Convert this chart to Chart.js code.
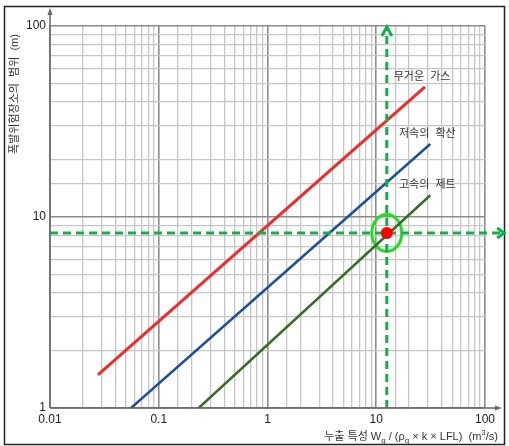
<!DOCTYPE html>
<html>
<head>
<meta charset="utf-8">
<script src="https://cdn.jsdelivr.net/npm/chart.js"></script>
<style>
  html, body { margin: 0; padding: 0; background: #fff; }
  #wrap { width: 509px; height: 446px; }
</style>
</head>
<body>
<div id="wrap"><canvas id="chart" width="509" height="446"></canvas></div>
<script>
// axis ranges / tick labels
const xTickLabels = [0.01, 0.1, 1, 10, 100];
const yTickLabels = [1, 10, 100];

// line series, end points (log-log straight lines)
const heavyGasX = [0.0276, 28.1];
const heavyGasY = [1.49, 48];
const slowDiffX = [0.0556, 31.4];
const slowDiffY = [1, 24.1];
const fastJetX = [0.233, 31.4];
const fastJetY = [1, 13.0];

const seriesNames = ["무거운 가스", "저속의 확산", "고속의 제트"];

// reading point and guides
const markX = 12.5;
const markY = 8.25;
const guideTopY = 100;
const guideRightX = 150;

const FONT = "'Liberation Sans', 'Noto Sans CJK KR', sans-serif";

const pts = (xs, ys) => xs.map((v, i) => ({ x: v, y: ys[i] }));
const isDecade = v => Math.abs(Math.log10(v) - Math.round(Math.log10(v))) < 1e-6;

const decor = {
    id: "decor",
    beforeDatasetsDraw(chart) {
        const { ctx, scales: { x, y } } = chart;
        // green ring round the reading point
        ctx.save();
        ctx.strokeStyle = "#1ee01e";
        ctx.lineWidth = 3;
        ctx.beginPath();
        ctx.ellipse(x.getPixelForValue(markX), y.getPixelForValue(markY), 15, 18.5, 0, 0, Math.PI * 2);
        ctx.stroke();
        ctx.restore();
    },
    afterDraw(chart) {
        const { ctx, scales: { x, y }, chartArea: a } = chart;
        ctx.save();

        // outer frame
        ctx.strokeStyle = "#222";
        ctx.lineWidth = 1.5;
        ctx.strokeRect(4.5, 6.5, 500, 438);

        // axes with arrows
        ctx.strokeStyle = "#666";
        ctx.fillStyle = "#666";
        ctx.lineWidth = 1.5;
        ctx.beginPath();
        ctx.moveTo(a.left, a.bottom);
        ctx.lineTo(a.left, 12);
        ctx.moveTo(a.left, a.bottom);
        ctx.lineTo(498, a.bottom);
        ctx.stroke();
        ctx.beginPath();
        ctx.moveTo(a.left, 8);
        ctx.lineTo(a.left - 2.5, 15);
        ctx.lineTo(a.left + 2.5, 15);
        ctx.closePath();
        ctx.fill();
        ctx.beginPath();
        ctx.moveTo(502, a.bottom);
        ctx.lineTo(495, a.bottom - 2.5);
        ctx.lineTo(495, a.bottom + 2.5);
        ctx.closePath();
        ctx.fill();

        // green guide arrowheads
        ctx.strokeStyle = "#12b04a";
        ctx.lineWidth = 3;
        const gx = x.getPixelForValue(markX);
        const gt = y.getPixelForValue(guideTopY);
        ctx.beginPath();
        ctx.moveTo(gx - 5, gt + 10);
        ctx.lineTo(gx, gt + 1);
        ctx.lineTo(gx + 5, gt + 10);
        ctx.stroke();
        const gr = x.getPixelForValue(guideRightX);
        const gy = y.getPixelForValue(markY);
        ctx.beginPath();
        ctx.moveTo(gr - 7, gy - 5);
        ctx.lineTo(gr, gy);
        ctx.lineTo(gr - 7, gy + 5);
        ctx.stroke();

        // series labels near the line ends
        ctx.fillStyle = "#333";
        ctx.font = "11px " + FONT;
        ctx.textAlign = "center";
        ctx.textBaseline = "middle";
        const ends = [
            [heavyGasX[1], heavyGasY[1]],
            [slowDiffX[1], slowDiffY[1]],
            [fastJetX[1], fastJetY[1]]
        ];
        ends.forEach((e, i) => {
            ctx.fillText(seriesNames[i].replace(" ", "  "), x.getPixelForValue(e[0]) - 3, y.getPixelForValue(e[1]) - 10);
        });

        // y title
        ctx.save();
        ctx.translate(15, 94);
        ctx.rotate(-Math.PI / 2);
        ctx.font = "11px " + FONT;
        ctx.fillText("폭발위험장소의  범위  (m)", 0, 0);
        ctx.restore();

        // x title with sub / superscripts
        const parts = [
            ["누출 특성 W", 11, 0],
            ["g", 8, 3],
            [" / (ρ", 11, 0],
            ["g", 8, 3],
            [" × k × LFL)  (m", 11, 0],
            ["3", 8, -5],
            ["/s)", 11, 0]
        ];
        let total = 0;
        parts.forEach(p => { ctx.font = p[1] + "px " + FONT; total += ctx.measureText(p[0]).width; });
        let cx = 498 - total;
        ctx.textAlign = "left";
        ctx.textBaseline = "alphabetic";
        parts.forEach(p => {
            ctx.font = p[1] + "px " + FONT;
            ctx.fillText(p[0], cx, 440 + p[2]);
            cx += ctx.measureText(p[0]).width;
        });

        ctx.restore();
    }
};

new Chart(document.getElementById("chart"), {
    type: "scatter",
    data: {
        datasets: [
            {
                label: "reading",
                data: [{ x: markX, y: markY }],
                pointRadius: 6,
                pointBackgroundColor: "#ff0000",
                pointBorderWidth: 0
            },
            {
                label: "guide-v",
                data: pts([markX, markX], [yTickLabels[0], guideTopY]),
                showLine: true,
                borderColor: "#12b04a",
                borderWidth: 3,
                borderDash: [8, 5],
                pointRadius: 0,
                clip: false
            },
            {
                label: "guide-h",
                data: pts([xTickLabels[0], guideRightX], [markY, markY]),
                showLine: true,
                borderColor: "#12b04a",
                borderWidth: 3,
                borderDash: [8, 5],
                pointRadius: 0,
                clip: false
            },
            {
                label: seriesNames[0],
                data: pts(heavyGasX, heavyGasY),
                showLine: true,
                borderColor: "#f42a2a",
                borderWidth: 3,
                pointRadius: 0
            },
            {
                label: seriesNames[1],
                data: pts(slowDiffX, slowDiffY),
                showLine: true,
                borderColor: "#1f4e9e",
                borderWidth: 2.5,
                pointRadius: 0
            },
            {
                label: seriesNames[2],
                data: pts(fastJetX, fastJetY),
                showLine: true,
                borderColor: "#3a6a2a",
                borderWidth: 2.5,
                pointRadius: 0
            }
        ]
    },
    options: {
        responsive: false,
        animation: false,
        events: [],
        layout: { padding: { left: 0, top: 26, right: 24, bottom: 0 } },
        plugins: {
            legend: { display: false },
            tooltip: { enabled: false }
        },
        scales: {
            x: {
                type: "logarithmic",
                min: xTickLabels[0],
                max: xTickLabels[xTickLabels.length - 1],
                afterFit: s => { s.height = 38; },
                border: { display: false },
                grid: {
                    drawTicks: false,
                    color: c => isDecade(c.tick.value) ? "#8c8c8c" : "#c6c6c6",
                    lineWidth: c => isDecade(c.tick.value) ? 1.6 : 1.3
                },
                ticks: {
                    autoSkip: false,
                    maxRotation: 0,
                    padding: 4,
                    color: "#222",
                    font: { family: FONT, size: 12 },
                    callback: v => xTickLabels.some(t => Math.abs(t - v) < t * 1e-6) ? String(v) : ""
                }
            },
            y: {
                type: "logarithmic",
                min: yTickLabels[0],
                max: yTickLabels[yTickLabels.length - 1],
                afterFit: s => { s.width = 50; },
                border: { display: false },
                grid: {
                    drawTicks: false,
                    color: c => isDecade(c.tick.value) ? "#8c8c8c" : "#c6c6c6",
                    lineWidth: c => isDecade(c.tick.value) ? 1.6 : 1.3
                },
                ticks: {
                    autoSkip: false,
                    padding: 4,
                    color: "#222",
                    font: { family: FONT, size: 12 },
                    callback: v => yTickLabels.some(t => Math.abs(t - v) < t * 1e-6) ? String(v) : ""
                }
            }
        }
    },
    plugins: [decor]
});
</script>
</body>
</html>
